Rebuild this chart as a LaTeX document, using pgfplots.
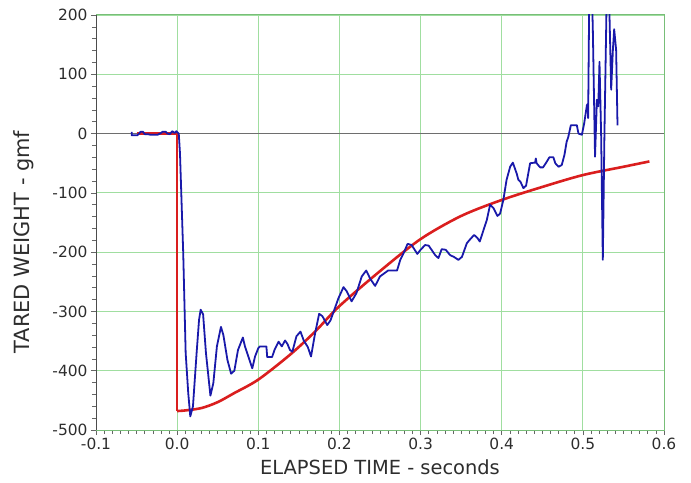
\documentclass[border=0pt]{standalone}
\usepackage{fontspec}
\setmainfont{DejaVu Sans}
\usepackage{pgfplots}
\pgfplotsset{compat=1.18}
\definecolor{gridgreen}{RGB}{160,222,160}
\definecolor{framegreen}{RGB}{120,190,120}
\definecolor{sigblue}{RGB}{25,25,170}
\definecolor{fitred}{RGB}{218,30,30}
\definecolor{ticktext}{RGB}{45,45,45}
\definecolor{zeroline}{RGB}{110,110,110}

% step before the impact
\pgfplotstableread{
t w
-0.050 0
0.000 0
0.000 -468
}\stepdata

% fitted curve after the impact
\pgfplotstableread{
t w
0.000 -468
0.010 -467
0.030 -463
0.050 -453
0.070 -438
0.100 -415
0.140 -372
0.170 -334
0.200 -291
0.250 -232
0.300 -178
0.350 -139
0.400 -112
0.450 -90
0.500 -70
0.550 -56
0.582 -47
}\fitdata

\pgfplotstableread{
t w
-0.056 3
-0.056 -3
-0.049 -3
-0.047 0
-0.045 3
-0.042 3
-0.040 -1
-0.036 -1
-0.033 -2
-0.024 -2
-0.021 0
-0.018 3
-0.014 3
-0.012 0
-0.009 -1
-0.006 4
-0.003 1
-0.001 4
0.002 0
0.0035 -33
0.0075 -202
0.0105 -370
0.0137 -438
0.0162 -477
0.0195 -460
0.024 -370
0.027 -314
0.029 -297
0.032 -305
0.0355 -370
0.041 -442
0.0446 -421
0.049 -359
0.054 -326
0.057 -340
0.062 -382
0.0665 -405
0.0705 -400
0.075 -365
0.081 -344
0.0836 -359
0.0877 -376
0.0926 -396
0.096 -376
0.100 -362
0.102 -359
0.110 -359
0.111 -377
0.117 -377
0.120 -365
0.125 -351
0.129 -359
0.133 -349
0.136 -355
0.139 -365
0.142 -368
0.147 -342
0.152 -334
0.156 -349
0.161 -360
0.165 -376
0.170 -337
0.175 -304
0.179 -308
0.185 -323
0.189 -315
0.193 -300
0.1987 -278
0.205 -259
0.209 -266
0.215 -283
0.221 -269
0.2275 -241
0.233 -231
0.238 -245
0.244 -257
0.250 -241
0.260 -231
0.271 -231
0.275 -213
0.279 -202
0.284 -186
0.289 -188
0.296 -203
0.300 -196
0.3056 -188
0.310 -189
0.318 -205
0.322 -210
0.326 -195
0.331 -196
0.3364 -205
0.341 -208
0.3466 -213
0.351 -208
0.357 -185
0.360 -180
0.366 -171
0.370 -176
0.373 -182
0.3775 -163
0.3816 -146
0.3857 -120
0.390 -126
0.3947 -139
0.398 -135
0.402 -112
0.406 -78
0.4104 -56
0.4137 -49
0.4186 -68
0.4205 -78
0.423 -81
0.4267 -92
0.430 -88
0.435 -50
0.4412 -49
0.442 -42
0.443 -50
0.4473 -57
0.451 -57
0.4548 -49
0.4588 -40
0.4637 -40
0.466 -50
0.470 -56
0.474 -53
0.4773 -36
0.480 -14
0.482 -6
0.4852 14
0.4926 14
0.4946 0
0.4988 -2
0.5016 17
0.505 48
0.506 50
0.5065 26
0.508 250
0.511 250
0.5123 175
0.515 -39
0.5173 57
0.519 46
0.5205 121
0.5225 0
0.5246 -213
0.5266 0
0.5296 250
0.532 250
0.5349 74
0.537 141
0.5386 176
0.541 141
0.5427 14
}\sigdata

\begin{document}
\begin{tikzpicture}
\useasboundingbox (-96bp,-53bp) rectangle (595bp,430bp);
\begin{axis}[
  scale only axis,
  width=568bp, height=415bp,
  xmin=-0.1, xmax=0.6, ymin=-500, ymax=200,
  xtick={-0.1,0,...,0.6}, ytick={-500,-400,...,200},
  minor x tick num=9, minor y tick num=4,
  tick align=outside,
  major tick length=5bp, minor tick length=4bp,
  tick style={color=gray!80!black, line width=0.6pt},
  xtick pos=bottom, ytick pos=left,
  grid=major,
  major grid style={gridgreen, line width=0.9pt},
  axis line style={framegreen, line width=1pt},
  axis background/.style={fill=white},
  x tick label style={/pgf/number format/.cd, fixed, fixed zerofill, precision=1, assume math mode=true},
  y tick label style={/pgf/number format/.cd, assume math mode=true},
  tick label style={font=\fontsize{15.5}{17}\selectfont, text=ticktext},
  xlabel={ELAPSED TIME - seconds},
  ylabel={TARED WEIGHT - gmf},
  xlabel style={font=\fontsize{19.5}{21}\selectfont, text=ticktext, yshift=-3bp},
  ylabel style={font=\fontsize{21}{23}\selectfont, text=ticktext,
    at={(axis description cs:-0.127,0.453)}, anchor=center, rotate=0},
  extra y ticks={0}, extra y tick labels={},
  extra y tick style={grid=major, major grid style={zeroline, line width=1.6pt}, tick style={draw=none}},
]
\addplot[fitred, line width=2.6pt, line join=round] table[x=t, y=w] {\stepdata};
\addplot[fitred, line width=2.6pt, smooth, tension=0.5] table[x=t, y=w] {\fitdata};
\addplot[sigblue, line width=1.8pt, line join=round] table[x=t, y=w] {\sigdata};
\draw[gray!60!black, line width=1pt] (rel axis cs:0,0) -- (rel axis cs:0,1);
\end{axis}
\end{tikzpicture}
\end{document}
